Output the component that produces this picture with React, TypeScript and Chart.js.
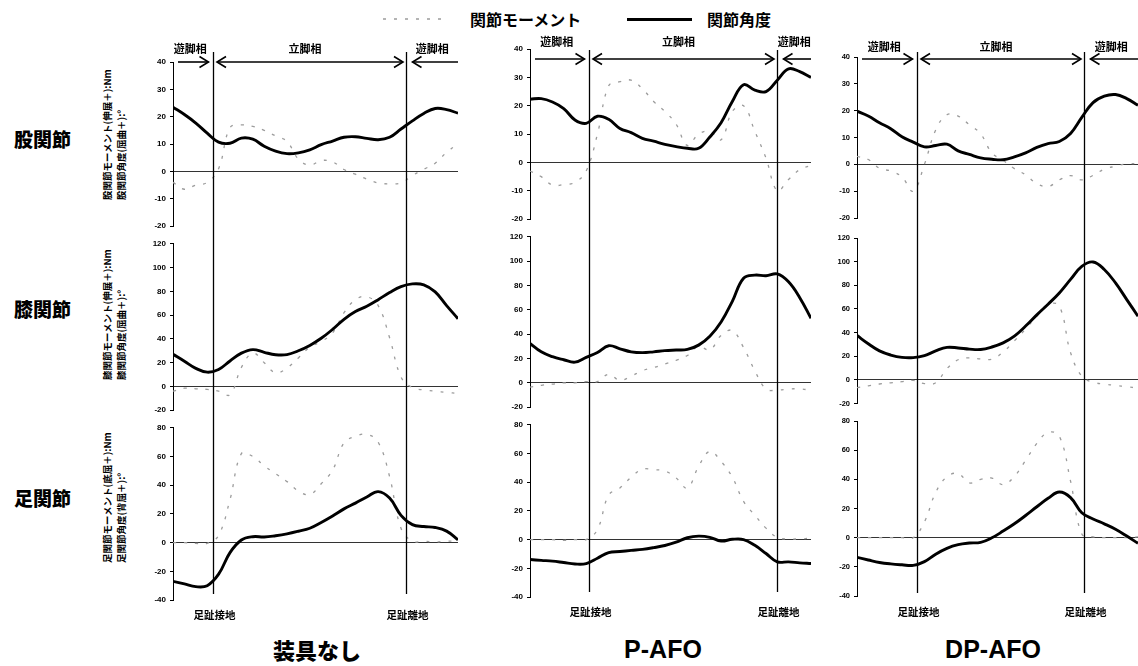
import React, { useEffect, useRef } from 'react';
import { Chart, registerables } from 'chart.js';

Chart.register(...registerables);

// ---- data (x = normalised time, 0–100) ----
const X = [0, 4, 8, 12, 16, 20, 24, 28, 32, 36, 40, 44, 48, 52, 56, 60, 64, 68, 72, 76, 80, 84, 88, 92, 96, 100];

// 装具なし
const NONE_HIP_ANGLE = [23.5, 20.8, 17.7, 14, 10.7, 10.3, 12.2, 11.8, 9.2, 7.4, 6.5, 6.8, 7.9, 9.8, 11.1, 12.5, 12.7, 12.1, 11.6, 12.5, 15.5, 18.5, 21.2, 23, 22.6, 21.3];
const NONE_HIP_MOMENT = [-4, -6.5, -5, -4, 1, 16, 17, 16.5, 15, 13, 11, 4.5, 2.3, 4, 3.5, 0.7, -1, -2.8, -4.2, -4.5, -4.2, -1.5, 0.8, 3, 7, 10];
const NONE_KNEE_ANGLE = [27, 21.2, 15.2, 12, 14.3, 21.4, 28, 31, 28.7, 26.7, 26.8, 30, 34.5, 40.5, 48, 56.5, 63, 67.5, 73, 79, 84, 86.3, 85.5, 79.5, 68, 57];
const NONE_KNEE_MOMENT = [-4, -1.5, -2, -2.5, -4, -7, 16, 28, 20, 11.5, 15.5, 24, 33, 37.8, 45, 62, 73, 75.5, 68, 41, 8, -1, -3, -4, -5, -6];
const NONE_ANKLE_ANGLE = [-27, -28.8, -30.7, -30, -22, -7, 1.8, 4.1, 3.9, 4.8, 6.1, 7.9, 10, 14, 18.5, 23.5, 27.5, 31.8, 35.5, 31, 19, 12.5, 11.2, 10.5, 8, 2];
const NONE_ANKLE_MOMENT = [0, 0, -0.5, -0.5, 5, 30, 62, 60, 53.5, 48, 42.5, 36, 33.5, 41, 50.5, 69.5, 74, 75.5, 70, 46, 10, 1, 1, 0.5, 1, 1];

// P-AFO
const PAFO_HIP_ANGLE = [22.3, 22.5, 21.3, 19, 15, 13.8, 16.3, 15.2, 12, 10.5, 8.5, 7.5, 6.4, 5.6, 5, 5, 9, 14, 21.5, 27.4, 25.5, 25, 29, 33, 32, 30];
const PAFO_HIP_MOMENT = [-3, -5, -8, -7.8, -7, -3, 10, 27, 28.5, 29, 26, 21.5, 18, 13.5, 6, 10, 11, 8, 18, 20, 11, 1.5, -10, -6, -2.5, -1];
const PAFO_KNEE_ANGLE = [32.5, 25.5, 21.5, 19, 17, 21, 25, 30.5, 28, 25.5, 24.8, 25.5, 26.5, 27, 27.5, 31, 38.3, 50, 67, 86, 88.5, 88, 89.5, 83, 70, 53];
const PAFO_KNEE_MOMENT = [-3.5, -2, -1, 0, 0, 1, 1, 7, 2, 5.5, 10, 12.5, 15.5, 18.5, 22.5, 30, 27, 39, 43, 29, 10, -5, -6, -5, -5, -6];
const PAFO_ANKLE_ANGLE = [-13.9, -14.5, -15, -16, -17, -16.7, -13, -9, -8.3, -7.5, -6.8, -5.6, -4.1, -1.8, 1.3, 2.4, 1.6, -1, 0.2, 0, -4, -9.7, -15.5, -15.5, -16.2, -16.7];
const PAFO_ANKLE_MOMENT = [0, 0, 0, -0.5, 0, 0, 7, 31, 36, 43.5, 49, 48.7, 47.8, 43, 36, 51, 61.5, 54.5, 43.5, 26.6, 17, 8, 1.5, 0.5, 0.5, 1];

// DP-AFO
const DPAFO_HIP_ANGLE = [19.8, 18, 15.5, 13.3, 10.3, 8.3, 6.5, 7, 7.5, 5, 3.7, 2.4, 1.9, 1.7, 2.8, 4.3, 6.3, 7.7, 8.5, 11.5, 17.5, 23, 25.4, 26, 24.5, 22];
const DPAFO_HIP_MOMENT = [3, 1.8, -1.5, -2.5, -4.7, -10, 0, 12.8, 18.5, 18, 14.7, 11.4, 4.2, 1.5, -1.6, -3.9, -7.2, -8.3, -5.8, -4.2, -5.8, -4.1, -1.8, -0.7, 0.2, 0.2];
const DPAFO_KNEE_ANGLE = [37.5, 30.5, 24.5, 21, 19, 18.8, 20.5, 24.5, 27.5, 27, 26, 25.7, 27.8, 31.3, 37, 45.5, 55, 64, 73.5, 85, 96, 99.7, 93.4, 82, 67.9, 53.8];
const DPAFO_KNEE_MOMENT = [-6.5, -5, -3.5, -2.5, -1.5, -0.5, -3.2, -2.5, 9.5, 17, 18.6, 17.7, 17.5, 23.5, 33, 43, 54, 64, 62.5, 23, 3, -2, -3.5, -4.8, -5.8, -7];
const DPAFO_ANKLE_ANGLE = [-13.5, -15.3, -17, -18, -18.6, -19, -16.4, -11.3, -7.3, -4.8, -3.7, -3.2, -0.1, 4.5, 9.5, 15.2, 21.2, 27, 31.3, 27.5, 17.1, 12.8, 9.5, 5.8, 1.1, -3.9];
const DPAFO_ANKLE_MOMENT = [0, 0, 0, 0, 0, 0, 10.8, 31, 41.8, 44, 37.5, 40, 40.9, 36.4, 42, 53, 64.6, 72.2, 69.6, 38.7, 2.5, 0.5, 0, 0, 0, 0.5];

// events (x value of toe contact / toe off) per condition
const TOE_CONTACT = [14.0, 20.9, 21.2];
const TOE_OFF = [81.8, 88.0, 80.8];

// text
const CONDITIONS = ['装具なし', 'P-AFO', 'DP-AFO'];
const JOINTS = ['股関節', '膝関節', '足関節'];
const Y_TITLES = [
  ['股関節モーメント(伸展＋):Nm', '股関節角度(屈曲＋):°'],
  ['膝関節モーメント(伸展＋):Nm', '膝関節角度(屈曲＋):°'],
  ['足関節モーメント(底屈＋):Nm', '足関節角度(背屈＋):°'],
];
const MOMENT_LABEL = '関節モーメント';
const ANGLE_LABEL = '関節角度';
const SWING = '遊脚相';
const STANCE = '立脚相';
const CONTACT_LABEL = '足趾接地';
const OFF_LABEL = '足趾離地';

// axis ranges per joint
const Y_MIN = [-20, -20, -40];
const Y_MAX = [40, 120, 80];
const Y_STEP = [10, 20, 20];

const SERIES = [
  [[NONE_HIP_ANGLE, NONE_HIP_MOMENT], [NONE_KNEE_ANGLE, NONE_KNEE_MOMENT], [NONE_ANKLE_ANGLE, NONE_ANKLE_MOMENT]],
  [[PAFO_HIP_ANGLE, PAFO_HIP_MOMENT], [PAFO_KNEE_ANGLE, PAFO_KNEE_MOMENT], [PAFO_ANKLE_ANGLE, PAFO_ANKLE_MOMENT]],
  [[DPAFO_HIP_ANGLE, DPAFO_HIP_MOMENT], [DPAFO_KNEE_ANGLE, DPAFO_KNEE_MOMENT], [DPAFO_ANKLE_ANGLE, DPAFO_ANKLE_MOMENT]],
];

// ---- layout (page pixels) ----
const AXIS_W = 40;
const COL_LAYOUT = [
  { axisX: 173, endX: 458, rows: [[62, 229], [240, 412], [425, 600]], canvasTop: 28, bounds: [235, 419], canvasBottom: 634, vTop: 52, vBottom: 594, labelY: 49, arrowY: 62, footY: 615, tickSize: 8 },
  { axisX: 530, endX: 811, rows: [[49, 220], [236, 409], [424, 597]], canvasTop: 24, bounds: [228, 416], canvasBottom: 634, vTop: 50, vBottom: 592, labelY: 42, arrowY: 59, footY: 612, tickSize: 8 },
  { axisX: 857, endX: 1138, rows: [[57, 218], [238, 404], [421, 596]], canvasTop: 24, bounds: [228, 412], canvasBottom: 634, vTop: 52, vBottom: 593, labelY: 47, arrowY: 59, footY: 612, tickSize: 7.5 },
];

const JP = '"Noto Sans CJK JP", "Noto Sans CJK SC", sans-serif';
const MOMENT_COLOR = '#9c9c9c';
const MOMENT_DASH = [3, 8];

function drawArrow(ctx: CanvasRenderingContext2D, x1: number, x2: number, y: number, headL: boolean, headR: boolean) {
  const L = 9, H = 5.5;
  ctx.beginPath();
  ctx.moveTo(x1, y);
  ctx.lineTo(x2, y);
  ctx.stroke();
  if (headR) {
    ctx.beginPath();
    ctx.moveTo(x2 - L, y - H);
    ctx.lineTo(x2, y);
    ctx.lineTo(x2 - L, y + H);
    ctx.stroke();
  }
  if (headL) {
    ctx.beginPath();
    ctx.moveTo(x1 + L, y - H);
    ctx.lineTo(x1, y);
    ctx.lineTo(x1 + L, y + H);
    ctx.stroke();
  }
}

const gaitOverlay = {
  id: 'gaitOverlay',
  afterDatasetsDraw(chart: any, _args: any, opts: any) {
    const { ctx, chartArea, scales } = chart;
    const xs = scales.x;
    const xc = Math.round(xs.getPixelForValue(opts.contact)) + 0.5;
    const xo = Math.round(xs.getPixelForValue(opts.off)) + 0.5;
    ctx.save();
    ctx.strokeStyle = '#000';
    ctx.fillStyle = '#000';
    ctx.lineWidth = 1.3;
    for (const px of [xc, xo]) {
      ctx.beginPath();
      ctx.moveTo(px, opts.vTop);
      ctx.lineTo(px, opts.vBottom);
      ctx.stroke();
    }
    if (opts.phase) {
      const y = opts.arrowY;
      ctx.lineWidth = 1.6;
      drawArrow(ctx, chartArea.left + 5, xc - 5, y, false, true);
      drawArrow(ctx, xc + 3.5, xo - 3.5, y, true, true);
      drawArrow(ctx, xo + 6, chartArea.right, y, true, false);
      ctx.font = `bold 11px ${JP}`;
      ctx.textAlign = 'center';
      ctx.textBaseline = 'middle';
      ctx.fillText(SWING, (chartArea.left + xc) / 2 - 3, opts.labelY);
      ctx.fillText(STANCE, (xc + xo) / 2 - 5, opts.labelY);
      ctx.fillText(SWING, (xo + chartArea.right) / 2, opts.labelY);
    }
    if (opts.foot) {
      ctx.font = `bold 10.5px ${JP}`;
      ctx.textAlign = 'center';
      ctx.textBaseline = 'middle';
      ctx.fillText(CONTACT_LABEL, xc + 1, opts.footY);
      ctx.fillText(OFF_LABEL, xo + 1, opts.footY);
    }
    ctx.restore();
  },
};

function Panel({ col, row }: { col: number; row: number }) {
  const ref = useRef<HTMLCanvasElement>(null);
  const L = COL_LAYOUT[col];
  const top = row === 0 ? L.canvasTop : L.bounds[row - 1];
  const bottom = row === 2 ? L.canvasBottom : L.bounds[row];
  const left = L.axisX - AXIS_W;
  const width = L.endX - left;
  const height = bottom - top;

  useEffect(() => {
    if (!ref.current) return;
    const [angle, moment] = SERIES[col][row];
    const chart = new Chart(ref.current, {
      type: 'line',
      data: {
        datasets: [
          {
            label: ANGLE_LABEL,
            data: X.map((x, i) => ({ x, y: angle[i] })),
            borderColor: '#000',
            borderWidth: 2.9,
            pointRadius: 0,
            tension: 0.4,
            fill: false,
          },
          {
            label: MOMENT_LABEL,
            data: X.map((x, i) => ({ x, y: moment[i] })),
            borderColor: MOMENT_COLOR,
            borderWidth: 1.3,
            borderDash: MOMENT_DASH,
            pointRadius: 0,
            tension: 0.4,
            fill: false,
          },
        ],
      },
      options: {
        responsive: false,
        animation: false,
        events: [],
        layout: { padding: { top: L.rows[row][0] - top, bottom: bottom - L.rows[row][1], left: 0, right: 0 } },
        plugins: {
          legend: { display: false },
          tooltip: { enabled: false },
          gaitOverlay: {
            contact: TOE_CONTACT[col],
            off: TOE_OFF[col],
            vTop: row === 0 ? L.vTop - top : 0,
            vBottom: row === 2 ? L.vBottom - top : height,
            phase: row === 0,
            foot: row === 2,
            arrowY: L.arrowY - top,
            labelY: L.labelY - top,
            footY: L.footY - top,
          },
        } as any,
        scales: {
          x: { type: 'linear', min: 0, max: 100, display: false },
          y: {
            min: Y_MIN[row],
            max: Y_MAX[row],
            ticks: {
              stepSize: Y_STEP[row],
              autoSkip: false,
              color: '#000',
              padding: 4,
              font: { family: 'Liberation Sans', size: L.tickSize, weight: 'bold' },
            },
            grid: {
              color: (c: any) => (c.tick && c.tick.value === 0 ? '#333' : 'rgba(0,0,0,0)'),
              lineWidth: 1,
              drawTicks: true,
              tickLength: 3,
              tickColor: '#000',
            },
            border: { display: true, color: '#000', width: 1 },
            afterFit: (s: any) => {
              s.width = AXIS_W;
            },
          } as any,
        },
      },
      plugins: [gaitOverlay as any],
    });
    return () => chart.destroy();
  }, []);

  return <canvas ref={ref} width={width} height={height} style={{ position: 'absolute', left, top, width, height }} />;
}

const ROW_LABEL_Y = [138, 308, 497];
const Y_TITLE_BOTTOM = [200, 380, 563];
const COND_X = [317, 663, 993];

export default function App() {
  const abs = (extra: React.CSSProperties): React.CSSProperties => ({ position: 'absolute', whiteSpace: 'nowrap', ...extra });
  return (
    <div style={{ position: 'absolute', left: 0, top: 0, width: 1138, height: 666, overflow: 'hidden', background: '#fff', color: '#000' }}>
      {/* legend */}
      <svg style={abs({ left: 383, top: 15, width: 66, height: 8 })} width={66} height={8}>
        <line x1={0} y1={4} x2={66} y2={4} stroke={MOMENT_COLOR} strokeWidth={1.3} strokeDasharray={MOMENT_DASH.join(' ')} />
      </svg>
      <div style={abs({ left: 470, top: 19, transform: 'translateY(-50%)', font: `bold 16px ${JP}` })}>{MOMENT_LABEL}</div>
      <div style={abs({ left: 627, top: 18, width: 65, height: 3, background: '#000' })} />
      <div style={abs({ left: 707, top: 19, transform: 'translateY(-50%)', font: `bold 16px ${JP}` })}>{ANGLE_LABEL}</div>

      {/* row labels */}
      {JOINTS.map((j, i) => (
        <div key={j} style={abs({ left: 42.5, top: ROW_LABEL_Y[i], transform: 'translate(-50%,-50%)', font: `900 19px ${JP}` })}>{j}</div>
      ))}

      {/* y-axis titles */}
      {Y_TITLES.map((t, i) => (
        <div
          key={i}
          style={abs({
            left: 100,
            top: Y_TITLE_BOTTOM[i],
            transformOrigin: '0 0',
            transform: 'rotate(-90deg)',
            font: `bold 9.5px ${JP}`,
            lineHeight: '14px',
            textAlign: 'left',
          })}
        >
          {t[0]}
          <br />
          {t[1]}
        </div>
      ))}

      {/* condition titles */}
      {CONDITIONS.map((c, i) => (
        <div
          key={c}
          style={abs({
            left: COND_X[i],
            top: 649,
            transform: 'translate(-50%,-50%)',
            font: i === 0 ? `900 22px ${JP}` : 'bold 25px "Liberation Sans", Arial, sans-serif',
          })}
        >
          {c}
        </div>
      ))}

      {[0, 1, 2].map((c) => [0, 1, 2].map((r) => <Panel key={`${c}-${r}`} col={c} row={r} />))}
    </div>
  );
}
